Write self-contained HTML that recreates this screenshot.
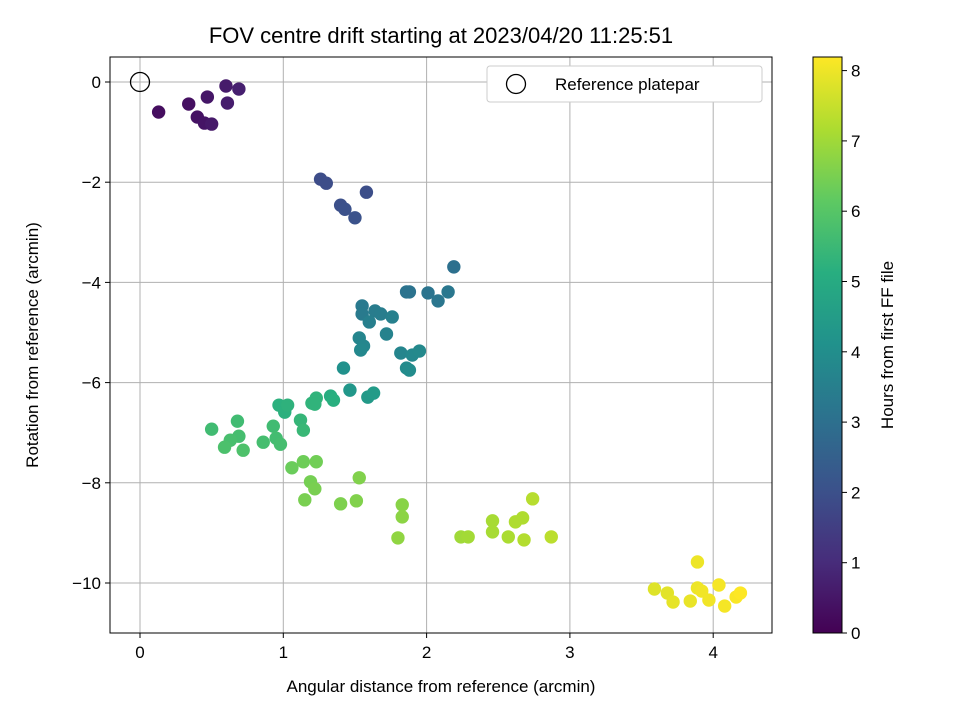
<!DOCTYPE html>
<html><head><meta charset="utf-8"><style>
body{margin:0;background:#fff}
svg text{font-family:"Liberation Sans","DejaVu Sans",sans-serif;fill:#000}
</style></head><body>
<svg id="c" width="960" height="720">
<defs><linearGradient id="vir" x1="0" y1="1" x2="0" y2="0">
<stop offset="0" stop-color="#440154"/><stop offset="0.125" stop-color="#472d7b"/><stop offset="0.25" stop-color="#3b528b"/><stop offset="0.375" stop-color="#2c728e"/><stop offset="0.5" stop-color="#21918c"/><stop offset="0.625" stop-color="#28ae80"/><stop offset="0.75" stop-color="#5ec962"/><stop offset="0.875" stop-color="#addc30"/><stop offset="1" stop-color="#fde725"/></linearGradient></defs>
<g id="grid"></g><g id="pts"></g><g id="axes"></g>
<text x="441" y="43" text-anchor="middle" font-size="22">FOV centre drift starting at 2023/04/20 11:25:51</text>
<text x="441" y="692" text-anchor="middle" font-size="17">Angular distance from reference (arcmin)</text>
<text x="38" y="345" text-anchor="middle" font-size="17" transform="rotate(-90 38 345)">Rotation from reference (arcmin)</text>
<g>
<rect x="487" y="66" width="275" height="36" rx="3" fill="#fff" stroke="#ccc"/>
<circle cx="516" cy="84" r="9.5" fill="none" stroke="#000" stroke-width="1.3"/>
<text x="555" y="90" font-size="17">Reference platepar</text></g>
<rect x="813" y="57" width="29" height="576" fill="url(#vir)" stroke="#000" stroke-width="1"/>
<text x="893" y="345" text-anchor="middle" font-size="17" transform="rotate(-90 893 345)">Hours from first FF file</text>
<g id="cbt"></g>
</svg>
<script>
const xs=[0.13,0.34,0.40,0.45,0.47,0.50,0.60,0.61,0.69,
1.26,1.30,1.58,1.40,1.43,1.50,
2.19,1.86,1.88,2.01,2.08,2.15,1.55,1.55,1.64,1.68,1.60,1.76,1.72,1.53,1.56,1.54,1.82,1.90,1.95,1.86,1.88,1.42,1.465,1.59,1.63,
0.97,1.01,1.03,1.20,1.23,1.22,1.33,1.35,1.12,1.14,0.50,0.68,0.69,0.63,0.59,0.72,0.86,0.93,0.95,0.98,
1.06,1.14,1.23,1.19,1.22,1.15,1.40,1.51,1.53,1.83,1.83,1.80,
2.24,2.29,2.46,2.46,2.57,2.62,2.67,2.68,2.74,2.87,
3.59,3.68,3.72,3.84,3.89,3.89,3.92,3.97,4.04,4.08,4.16,4.19];
const ys=[-0.60,-0.44,-0.70,-0.82,-0.30,-0.84,-0.08,-0.42,-0.14,
-1.94,-2.02,-2.20,-2.46,-2.54,-2.71,
-3.69,-4.19,-4.19,-4.21,-4.37,-4.19,-4.47,-4.63,-4.57,-4.63,-4.79,-4.69,-5.03,-5.11,-5.27,-5.35,-5.41,-5.45,-5.37,-5.71,-5.75,-5.71,-6.15,-6.29,-6.21,
-6.45,-6.59,-6.45,-6.41,-6.31,-6.43,-6.27,-6.35,-6.75,-6.95,-6.93,-6.77,-7.07,-7.15,-7.29,-7.35,-7.19,-6.87,-7.11,-7.23,
-7.70,-7.58,-7.58,-7.98,-8.12,-8.34,-8.42,-8.36,-7.90,-8.44,-8.68,-9.10,
-9.08,-9.08,-8.76,-8.98,-9.08,-8.78,-8.70,-9.14,-8.32,-9.08,
-10.12,-10.20,-10.38,-10.36,-9.58,-10.10,-10.16,-10.34,-10.04,-10.46,-10.28,-10.20];
const hrs=[0.3,0.35,0.4,0.45,0.5,0.55,0.6,0.65,0.7,
1.9,1.92,1.95,2.0,2.02,2.05,
3.0,3.1,3.12,3.15,3.2,3.25,3.3,3.35,3.4,3.45,3.5,3.55,3.6,3.7,3.75,3.8,3.7,3.8,3.85,3.9,3.95,4.1,4.3,4.4,4.45,
5.2,5.2,5.25,5.3,5.3,5.3,5.1,5.15,5.4,5.45,5.6,5.6,5.7,5.75,5.8,5.85,5.7,5.6,5.65,5.7,
6.3,6.35,6.4,6.45,6.5,6.5,6.55,6.6,6.6,6.7,6.75,6.8,
7.0,7.05,7.1,7.1,7.15,7.2,7.2,7.25,7.3,7.35,
7.8,7.85,7.9,7.95,8.0,8.0,8.05,8.05,8.1,8.1,8.15,8.2];
const xTicks=[0,1,2,3,4], yTicks=[0,-2,-4,-6,-8,-10], cTicks=[0,1,2,3,4,5,6,7,8];
const X=v=>140+v*143.3, Y=v=>82-v*50.1, C=v=>633-v*70.3;
const vstops=["#440154","#472d7b","#3b528b","#2c728e","#21918c","#28ae80","#5ec962","#addc30","#fde725"];
function hex(h){return [1,3,5].map(i=>parseInt(h.substr(i,2),16));}
function vir(t){t=Math.max(0,Math.min(1,t))*8;const i=Math.min(7,Math.floor(t)),f=t-i;const a=hex(vstops[i]),b=hex(vstops[i+1]);return "rgb("+a.map((v,k)=>Math.round(v+(b[k]-v)*f)).join(",")+")";}
const NS="http://www.w3.org/2000/svg";
function mk(p,tag,at){const e=document.createElementNS(NS,tag);for(const k in at)e.setAttribute(k,at[k]);document.getElementById(p).appendChild(e);return e;}
const g="grid";
xTicks.forEach(v=>{mk(g,"line",{x1:X(v),x2:X(v),y1:57,y2:633,stroke:"#b0b0b0","stroke-width":1});
const t=mk("axes","line",{x1:X(v),x2:X(v),y1:633,y2:638,stroke:"#000"});
const l=mk("axes","text",{x:X(v),y:658,"text-anchor":"middle","font-size":17});l.textContent=v;

});
yTicks.forEach(v=>{mk(g,"line",{x1:110,x2:772,y1:Y(v),y2:Y(v),stroke:"#b0b0b0","stroke-width":1});
mk("axes","line",{x1:105,x2:110,y1:Y(v),y2:Y(v),stroke:"#000"});
const l=mk("axes","text",{x:101,y:Y(v)+6,"text-anchor":"end","font-size":17});l.textContent=v<0?"\u2212"+(-v):v;

});
const fr=mk("axes","rect",{x:110,y:57,width:662,height:576,fill:"none",stroke:"#000","stroke-width":1});


const rp=mk("pts","circle",{cx:X(0),cy:Y(0),r:9.5,fill:"none",stroke:"#000","stroke-width":1.3});


xs.forEach((x,i)=>{const c=mk("pts","circle",{cx:X(x),cy:Y(ys[i]),r:6.7,fill:vir(hrs[i]/8.2)});

});
cTicks.forEach(v=>{mk("cbt","line",{x1:842,x2:847,y1:C(v),y2:C(v),stroke:"#000"});
const l=mk("cbt","text",{x:851,y:C(v)+6,"font-size":17});l.textContent=v;

});
</script>
</body></html>
